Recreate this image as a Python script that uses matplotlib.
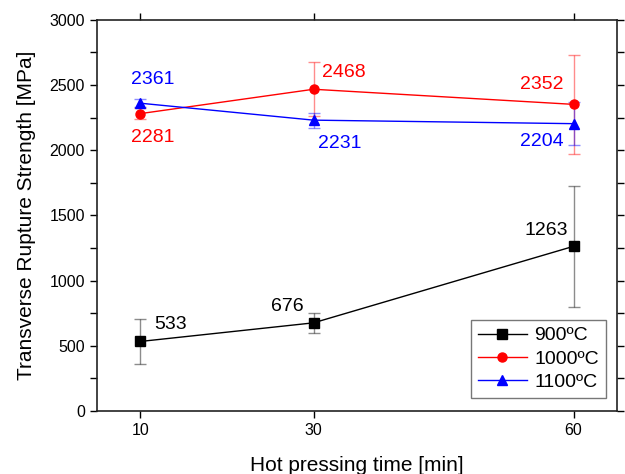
import matplotlib
matplotlib.use("Agg")
from matplotlib import pyplot as plt
from matplotlib.lines import Line2D
from matplotlib.ticker import MultipleLocator

plt.rcParams['font.family'] = ['Liberation Sans', 'DejaVu Sans']

times = [10, 30, 60]
s900 = [533, 676, 1263]
e900 = [175, 77, 463]
s1000 = [2281, 2468, 2352]
e1000 = [45, 208, 380]
s1100 = [2361, 2231, 2204]
e1100 = [30, 57, 163]
labels = ["900ºC", "1000ºC", "1100ºC"]

fig = plt.figure(figsize=(6.25, 4.74), dpi=100)
ax = fig.add_axes([0.155, 0.133, 0.832, 0.825])

series = [(s900, e900, "black", "s"), (s1000, e1000, "red", "o"), (s1100, e1100, "blue", "^")]
handles = []
for (vals, errs, col, mk), lab in zip(series, labels):
    ax.errorbar(times, vals, yerr=errs, color=col, marker=mk, markersize=6.5,
                lw=1, elinewidth=1, capsize=4, ecolor=col)
    handles.append(Line2D([], [], color=col, marker=mk, markersize=6.5, lw=1, label=lab))
# error bars are drawn lighter
for c in ax.collections:
    c.set_alpha(0.45)
for ln in ax.lines:
    if ln.get_marker() == "_":
        ln.set_alpha(0.45)

# value labels (offsets in points)
offs = [[(22, 12), (-19, 12), (-19.5, 11.5)],
        [(9, -17), (22, 12), (-23, 14)],
        [(9, 17), (19, -17), (-23, -13)]]
cols = ["black", "red", "blue"]
for vals, off, col in zip([s900, s1000, s1100], offs, cols):
    for t, v, o in zip(times, vals, off):
        ax.annotate(str(v), (t, v), xytext=o, textcoords="offset points",
                    ha="center", va="center", color=col, fontsize=14)

ax.set_xlim(5, 65)
ax.set_ylim(0, 3000)
ax.set_xticks(times)
ax.set_xticklabels([str(t) for t in times])
ax.yaxis.set_major_locator(MultipleLocator(500))
ax.yaxis.set_minor_locator(MultipleLocator(250))
ax.tick_params(axis="both", which="both", direction="out", labelsize=11.5, width=1)
ax.tick_params(axis="both", which="major", length=5)
ax.tick_params(axis="y", which="minor", length=5)
ax.tick_params(top=True, right=True, which="both")
ax.tick_params(axis="x", which="minor", top=False, bottom=False)
for sp in ax.spines.values():
    sp.set_linewidth(1.2)
    sp.set_color("#222222")

ax.set_xlabel("Hot pressing time [min]", fontsize=15, labelpad=13)
ax.set_ylabel("Transverse Rupture Strength [MPa]", fontsize=15, labelpad=10)

ax.legend(handles=handles, loc="lower right", fontsize=14, fancybox=False,
          edgecolor="#555555", handlelength=2.5, borderpad=0.35, labelspacing=0.3,
          handletextpad=0.4, borderaxespad=0, bbox_to_anchor=(0.979, 0.033))

fig.savefig("out.png", dpi=100)
